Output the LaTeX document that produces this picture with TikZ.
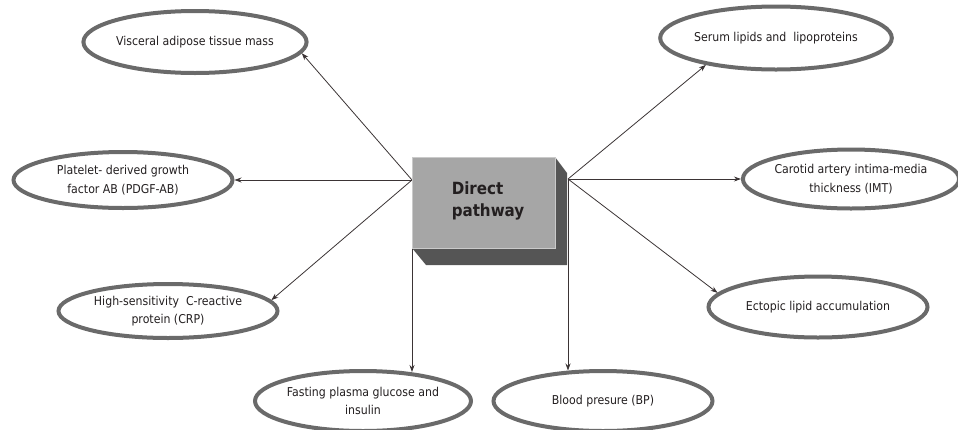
\documentclass[tikz,border=0pt]{standalone}
\usepackage{fontspec}
\setmainfont{DejaVu Sans Condensed}
\usetikzlibrary{shapes.geometric,arrows.meta}
\definecolor{ringgray}{HTML}{6A6A6A}
\definecolor{linecol}{HTML}{3B3435}
\definecolor{txtcol}{HTML}{231F20}
\definecolor{faceg}{HTML}{A6A6A6}
\definecolor{shadeg}{HTML}{555555}
\tikzset{
  oval/.style={ellipse, draw=ringgray, line width=4pt, fill=white, inner sep=0pt,
    align=center, text=txtcol, font=\fontsize{12.2}{18.5}\selectfont},
  arr/.style={draw=linecol, line width=0.8pt, -{Stealth[length=7pt,width=5pt]}},
}
\begin{document}
\begin{tikzpicture}[x=1pt,y=-1pt]
\useasboundingbox (0,0) rectangle (958,429);
% hubs
\coordinate (hl) at (412,180);
\coordinate (hr) at (568,179);
% ovals
\node[oval, minimum width=220pt, minimum height=62pt] (vis) at (195,42) {Visceral adipose tissue mass};
\node[oval, minimum width=219pt, minimum height=56pt] (plt) at (123,180) {Platelet- derived growth\\factor AB (PDGF-AB)};
\node[oval, minimum width=219pt, minimum height=54pt] (hs) at (168,311) {High-sensitivity\ \ C-reactive\\protein (CRP)};
\node[oval, minimum width=216pt, minimum height=60pt] (fast) at (363,401) {Fasting plasma glucose and\\insulin};
\node[oval, minimum width=219pt, minimum height=60pt] (bp) at (603,401) {Blood presure (BP)};
\node[oval, minimum width=219pt, minimum height=61pt] (ect) at (818,307) {Ectopic lipid accumulation};
\node[oval, minimum width=208pt, minimum height=59pt] (car) at (851,179) {Carotid artery intima-media\\thickness (IMT)};
\node[oval, minimum width=219pt, minimum height=63pt] (ser) at (776,38) {Serum lipids and\ \ lipoproteins};
% connectors
\draw[arr] (hl) -- (vis.-6.5);
\draw[arr] (hl) -- (plt);
\draw[arr] (hl) -- (hs.6.7);
\draw[arr, shorten >=-3pt] (hl) -- (hl |- fast.north);
\draw[arr, shorten >=-1.5pt] (hr) -- (hr |- bp.north);
\draw[arr] (hr) -- (ect.172.6);
\draw[arr] (hr) -- (car);
\draw[arr] (hr) -- (ser.-159.7);
% central box
\fill[shadeg] (555,157) -- (567,173) -- (567,265) -- (426,265) -- (412,248) -- (555,248) -- cycle;
\node[rectangle, fill=faceg, draw=faceg!60!white, line width=0.6pt, minimum width=143pt, minimum height=91pt, inner sep=0pt] (dp) at (483.5,202.5) {};
\node[align=left, text=txtcol, font=\fontsize{16.8}{22}\selectfont\bfseries, inner sep=0pt] (dpt) at (488,201) {Direct\\pathway};
\end{tikzpicture}
\end{document}
